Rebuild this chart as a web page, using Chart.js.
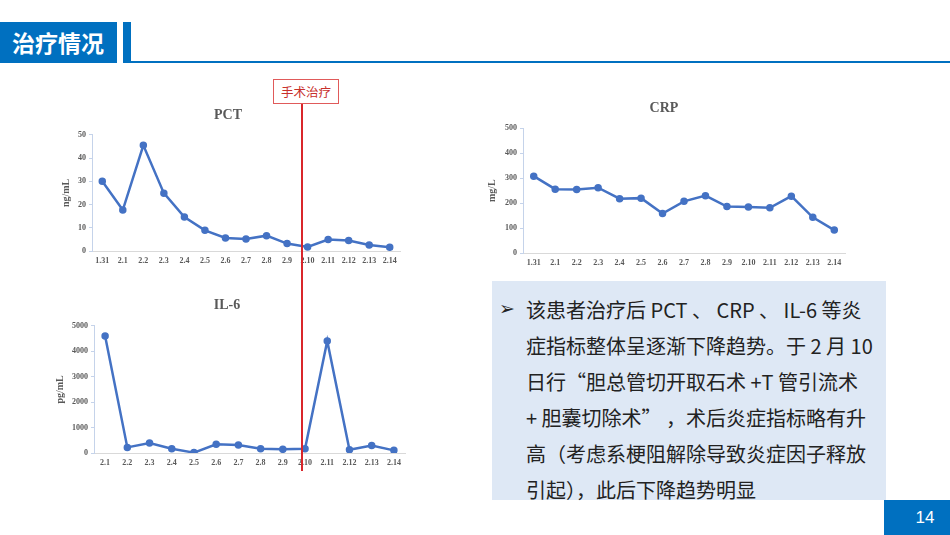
<!DOCTYPE html>
<html>
<head>
<meta charset="utf-8">
<script src="https://cdn.jsdelivr.net/npm/chart.js@4.4.1/dist/chart.umd.min.js"></script>
<style>
  html, body { margin: 0; padding: 0; background: #fff; }
  body { width: 950px; height: 535px; position: relative; overflow: hidden; font-family: 'Noto Sans CJK SC', 'Noto Sans', sans-serif; }
  .abs { position: absolute; }
  #hdr { left: 0; top: 22px; width: 117px; height: 41px; background: #0070c0; color: #fff; font-weight: bold; font-size: 23px; line-height: 41px; padding-left: 12px; box-sizing: border-box; }
  #hdr-bar { left: 123px; top: 22px; width: 8px; height: 41px; background: #0070c0; }
  #hdr-line { left: 131px; top: 61px; width: 819px; height: 2px; background: #0070c0; }
  canvas { position: absolute; }
  #op-line { left: 301px; top: 104px; width: 1.5px; height: 367px; background: #d9262b; }
  #op-box { left: 273px; top: 79px; width: 66px; height: 25px; border: 1px solid #e05a5a; box-sizing: border-box; background: #fff; color: #c8302b; font-size: 12.5px; line-height: 23px; text-align: center; }
  #note { left: 492px; top: 281px; width: 394px; height: 219px; background: #dee8f5; }
  #note-bullet { left: 499px; top: 296px; font-size: 19px; line-height: 24px; color: #222; font-family: 'DejaVu Sans', sans-serif; }
  #note-text { left: 526px; top: 292px; font-size: 20px; line-height: 36px; color: #222; white-space: pre; }
  #page { left: 884px; top: 500px; width: 66px; height: 35px; background: #0070c0; color: #fff; font-family: 'Liberation Sans', Arial, sans-serif; font-size: 17px; line-height: 35px; text-align: center; padding-left: 16px; box-sizing: border-box; }
</style>
</head>
<body>
<div class="abs" id="hdr">治疗情况</div>
<div class="abs" id="hdr-bar"></div>
<div class="abs" id="hdr-line"></div>

<canvas id="pct" width="354" height="171" style="left:51px;top:99px"></canvas>
<canvas id="crp" width="372" height="180" style="left:478px;top:92px"></canvas>
<canvas id="il6" width="366" height="183" style="left:44px;top:289px"></canvas>

<div class="abs" id="op-line"></div>
<div class="abs" id="op-box">手术治疗</div>

<div class="abs" id="note"></div>
<div class="abs" id="note-bullet">➢</div>
<div class="abs" id="note-text">该患者治疗后 PCT 、 CRP 、 IL-6 等炎
症指标整体呈逐渐下降趋势。于 2 月 10
日行“胆总管切开取石术 +T 管引流术
+ 胆囊切除术” ，术后炎症指标略有升
高（考虑系梗阻解除导致炎症因子释放
引起），此后下降趋势明显</div>

<div class="abs" id="page">14</div>

<script>
const pctDates = ['1.31', '2.1', '2.2', '2.3', '2.4', '2.5', '2.6', '2.7', '2.8', '2.9', '2.10', '2.11', '2.12', '2.13', '2.14'];
const pctValues = [30, 17.6, 45.5, 24.9, 14.6, 8.9, 5.6, 5.2, 6.6, 3.2, 1.7, 4.9, 4.5, 2.6, 1.6];

const crpDates = ['1.31', '2.1', '2.2', '2.3', '2.4', '2.5', '2.6', '2.7', '2.8', '2.9', '2.10', '2.11', '2.12', '2.13', '2.14'];
const crpValues = [308, 256, 255, 262, 218, 220, 158, 207, 230, 186, 184, 181, 228, 143, 92];

const il6Dates = ['2.1', '2.2', '2.3', '2.4', '2.5', '2.6', '2.7', '2.8', '2.9', '2.10', '2.11', '2.12', '2.13', '2.14'];
const il6Values = [4600, 220, 390, 170, 15, 340, 313, 170, 144, 170, 4400, 130, 290, 104];

const LINE = '#4472c4';
const INK = '#595959';
const SERIF = "'Liberation Serif', 'Times New Roman', serif";

function makeChart(id, title, unit, labels, values, opts) {
  return new Chart(document.getElementById(id), {
    type: 'line',
    data: {
      labels,
      datasets: [{
        data: values,
        borderColor: LINE,
        backgroundColor: LINE,
        borderWidth: 2.5,
        pointRadius: 2.5,
        pointHoverRadius: 2.5,
        tension: 0,
      }],
    },
    options: {
      responsive: false,
      animation: false,
      layout: { padding: 0 },
      plugins: {
        legend: { display: false },
        tooltip: { enabled: false },
        title: {
          display: true,
          text: title,
          color: INK,
          font: { family: SERIF, size: 14, weight: 'bold' },
          padding: { top: 8, bottom: opts.titleGap },
        },
      },
      scales: {
        x: {
          offset: true,
          grid: { drawOnChartArea: false, drawTicks: false },
          border: { display: true, color: '#d9d9d9', width: 1 },
          ticks: { color: INK, font: { family: SERIF, size: 8, weight: 'bold' }, padding: 5, maxRotation: 0, autoSkip: false },
          afterFit: s => { s.height = 19; },
        },
        y: {
          min: 0,
          max: opts.max,
          ticks: {
            stepSize: opts.step,
            color: INK,
            font: { family: SERIF, size: 8, weight: 'bold' },
            padding: 3,
            callback: v => String(v),
          },
          grid: { drawOnChartArea: false, drawTicks: true, tickLength: 3, color: '#c5d3ea' },
          border: { display: true, color: '#c5d3ea', width: 1 },
          title: {
            display: true,
            text: unit,
            color: INK,
            font: { family: SERIF, size: 10, weight: 'bold' },
            padding: { top: opts.unitPad, bottom: 0 },
          },
          afterFit: s => { s.width = opts.axisW; },
        },
      },
    },
  });
}

makeChart('pct', 'PCT', 'ng/mL', pctDates, pctValues, { max: 50, step: 10, axisW: 41, titleGap: 11, unitPad: 9 });
makeChart('crp', 'CRP', 'mg/L', crpDates, crpValues, { max: 500, step: 100, axisW: 45, titleGap: 11.5, unitPad: 8 });
makeChart('il6', 'IL-6', 'pg/mL', il6Dates, il6Values, { max: 5000, step: 1000, axisW: 50, titleGap: 12, unitPad: 10 });
</script>
</body>
</html>
